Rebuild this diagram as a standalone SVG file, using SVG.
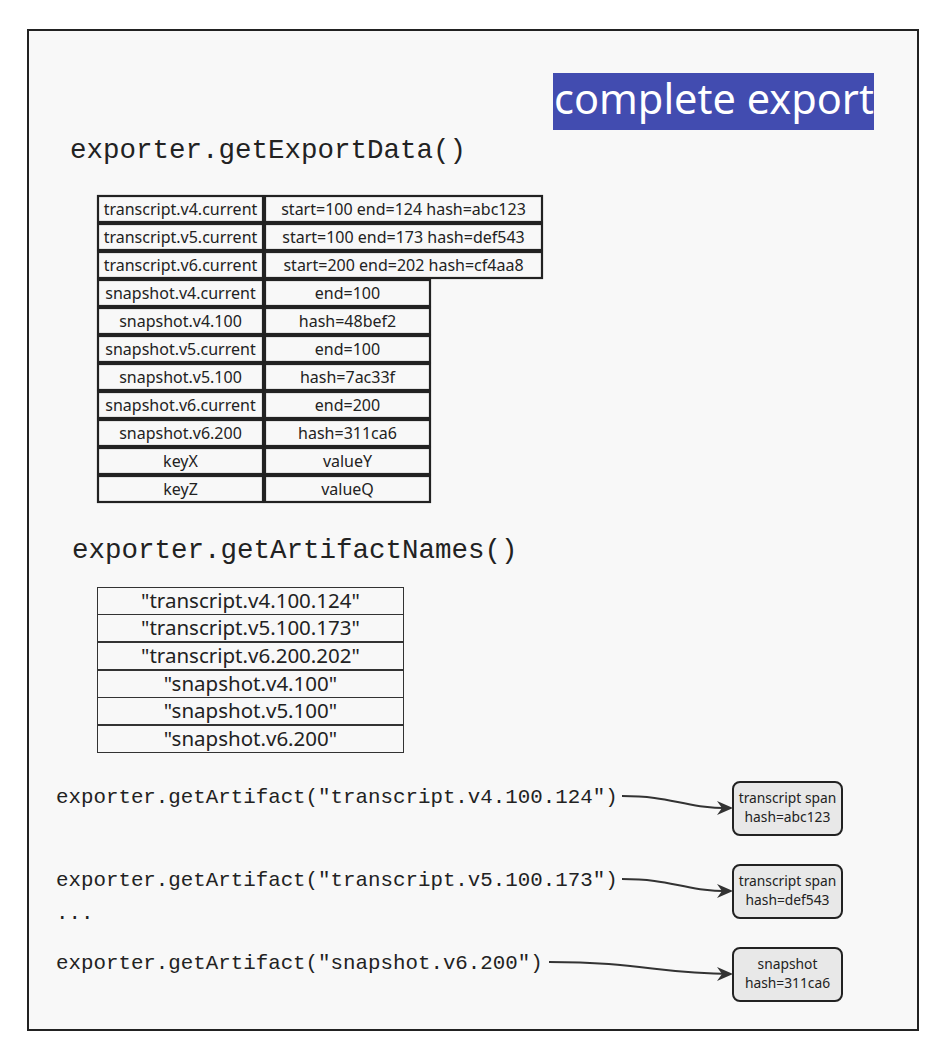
<svg xmlns="http://www.w3.org/2000/svg" width="944" height="1058" viewBox="0 0 944 1058">
<style>
.mono{font-family:"Liberation Mono","DejaVu Sans Mono",monospace;fill:#222}
.h{font-size:27.5px}
.call{font-size:20.8px}
.c1{fill:#f8f8f8;stroke:#222;stroke-width:2.2}
.t1{font-family:"Noto Sans","Open Sans",sans-serif;font-size:16px;fill:#222;text-anchor:middle}
.c2{fill:#f8f8f8;stroke:#333;stroke-width:1}
.t2{font-family:"Noto Sans","Open Sans",sans-serif;font-size:20.5px;fill:#222;text-anchor:middle}
.box{fill:#e8e8e8;stroke:#222;stroke-width:2}
.t3{font-family:"Noto Sans","Open Sans",sans-serif;font-size:13.8px;fill:#222;text-anchor:middle}
.conn{fill:none;stroke:#333;stroke-width:2}
</style>
<defs>
<marker id="arr" markerWidth="8" markerHeight="8" refX="7" refY="4" orient="auto" markerUnits="strokeWidth">
<path d="M0,0.5 L8,4 L0,7.5 L2.5,4 Z" fill="#333"/>
</marker>
</defs>
<rect x="0" y="0" width="944" height="1058" fill="#ffffff"/>
<rect id="frame" x="28" y="30" width="890" height="1000" fill="#f8f8f8" stroke="#222" stroke-width="2"/>

<g id="title">
<rect x="553" y="73" width="321" height="57" fill="#424cb0"/>
<text x="714" y="114" font-family="Noto Sans,Open Sans,sans-serif" font-size="41.5" fill="#ffffff" text-anchor="middle">complete export</text>
</g>

<g id="heading-exportdata"><text class="mono h" x="70" y="158">exporter.getExportData()</text></g>

<g id="export-table">
<rect class="c1" x="98" y="196" width="165" height="26"/><rect class="c1" x="265" y="196" width="277" height="26"/>
<text class="t1" x="180.5" y="215">transcript.v4.current</text><text class="t1" x="403.5" y="215">start=100 end=124 hash=abc123</text>
<rect class="c1" x="98" y="224" width="165" height="26"/><rect class="c1" x="265" y="224" width="277" height="26"/>
<text class="t1" x="180.5" y="243">transcript.v5.current</text><text class="t1" x="403.5" y="243">start=100 end=173 hash=def543</text>
<rect class="c1" x="98" y="252" width="165" height="26"/><rect class="c1" x="265" y="252" width="277" height="26"/>
<text class="t1" x="180.5" y="271">transcript.v6.current</text><text class="t1" x="403.5" y="271">start=200 end=202 hash=cf4aa8</text>
<rect class="c1" x="98" y="280" width="165" height="26"/><rect class="c1" x="265" y="280" width="165" height="26"/>
<text class="t1" x="180.5" y="299">snapshot.v4.current</text><text class="t1" x="347.5" y="299">end=100</text>
<rect class="c1" x="98" y="308" width="165" height="26"/><rect class="c1" x="265" y="308" width="165" height="26"/>
<text class="t1" x="180.5" y="327">snapshot.v4.100</text><text class="t1" x="347.5" y="327">hash=48bef2</text>
<rect class="c1" x="98" y="336" width="165" height="26"/><rect class="c1" x="265" y="336" width="165" height="26"/>
<text class="t1" x="180.5" y="355">snapshot.v5.current</text><text class="t1" x="347.5" y="355">end=100</text>
<rect class="c1" x="98" y="364" width="165" height="26"/><rect class="c1" x="265" y="364" width="165" height="26"/>
<text class="t1" x="180.5" y="383">snapshot.v5.100</text><text class="t1" x="347.5" y="383">hash=7ac33f</text>
<rect class="c1" x="98" y="392" width="165" height="26"/><rect class="c1" x="265" y="392" width="165" height="26"/>
<text class="t1" x="180.5" y="411">snapshot.v6.current</text><text class="t1" x="347.5" y="411">end=200</text>
<rect class="c1" x="98" y="420" width="165" height="26"/><rect class="c1" x="265" y="420" width="165" height="26"/>
<text class="t1" x="180.5" y="439">snapshot.v6.200</text><text class="t1" x="347.5" y="439">hash=311ca6</text>
<rect class="c1" x="98" y="448" width="165" height="26"/><rect class="c1" x="265" y="448" width="165" height="26"/>
<text class="t1" x="180.5" y="467">keyX</text><text class="t1" x="347.5" y="467">valueY</text>
<rect class="c1" x="98" y="476" width="165" height="26"/><rect class="c1" x="265" y="476" width="165" height="26"/>
<text class="t1" x="180.5" y="495">keyZ</text><text class="t1" x="347.5" y="495">valueQ</text>
</g>

<g id="heading-artifactnames"><text class="mono h" x="72" y="558">exporter.getArtifactNames()</text></g>

<g id="names-table">
<rect class="c2" x="97.5" y="587.5" width="306" height="27"/><text class="t2" x="250.5" y="608">"transcript.v4.100.124"</text>
<rect class="c2" x="97.5" y="614.5" width="306" height="27"/><text class="t2" x="250.5" y="635">"transcript.v5.100.173"</text>
<rect class="c2" x="97.5" y="642.5" width="306" height="27"/><text class="t2" x="250.5" y="663">"transcript.v6.200.202"</text>
<rect class="c2" x="97.5" y="670.5" width="306" height="27"/><text class="t2" x="250.5" y="691">"snapshot.v4.100"</text>
<rect class="c2" x="97.5" y="697.5" width="306" height="27"/><text class="t2" x="250.5" y="718">"snapshot.v5.100"</text>
<rect class="c2" x="97.5" y="725.5" width="306" height="27"/><text class="t2" x="250.5" y="746">"snapshot.v6.200"</text>
</g>

<g id="call-1"><text class="mono call" x="56" y="803">exporter.getArtifact("transcript.v4.100.124")</text></g>
<g id="call-2"><text class="mono call" x="56" y="886">exporter.getArtifact("transcript.v5.100.173")</text></g>
<g id="ellipsis"><text class="mono call" x="56" y="919">...</text></g>
<g id="call-3"><text class="mono call" x="56" y="969">exporter.getArtifact("snapshot.v6.200")</text></g>

<g id="artifact-1">
<rect class="box" x="733" y="782" width="109" height="53" rx="7"/>
<text class="t3" x="787.5" y="803">transcript span</text>
<text class="t3" x="787.5" y="822">hash=abc123</text>
</g>
<g id="artifact-2">
<rect class="box" x="733" y="865" width="109" height="53" rx="7"/>
<text class="t3" x="787.5" y="886">transcript span</text>
<text class="t3" x="787.5" y="905">hash=def543</text>
</g>
<g id="artifact-3">
<rect class="box" x="733" y="948" width="109" height="53" rx="7"/>
<text class="t3" x="787.5" y="969">snapshot</text>
<text class="t3" x="787.5" y="988">hash=311ca6</text>
</g>

<g id="connectors">
<path class="conn" d="M622,796 C675,796 680,808 731,808" marker-end="url(#arr)"/>
<path class="conn" d="M622,879 C675,879 680,891 731,891" marker-end="url(#arr)"/>
<path class="conn" d="M549,962 C640,962 660,974 731,974" marker-end="url(#arr)"/>
</g>
</svg>
